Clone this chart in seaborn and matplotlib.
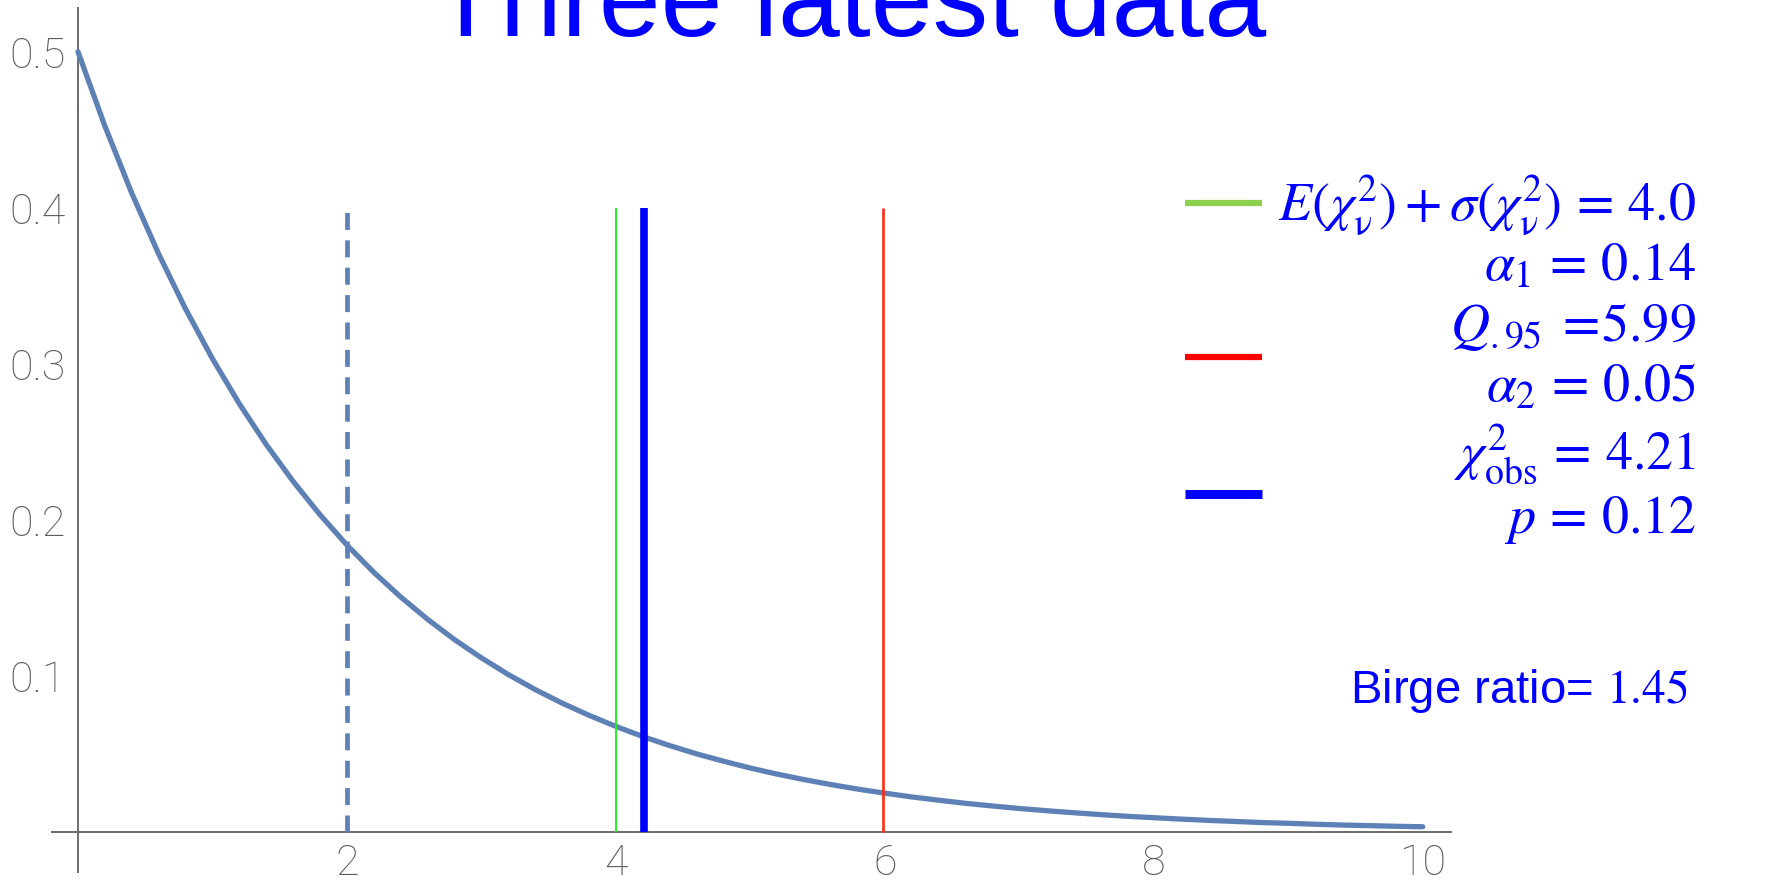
import matplotlib
matplotlib.use("Agg")
import matplotlib.pyplot as plt
from matplotlib.lines import Line2D
from matplotlib.ticker import FixedLocator, MultipleLocator
import numpy as np
import pandas as pd
import seaborn as sns

# ---- data ----
chi_x = [0.0, 0.2, 0.4, 0.6, 0.8, 1.0, 1.2, 1.4, 1.6, 1.8, 2.0, 2.2, 2.4, 2.6,
         2.8, 3.0, 3.2, 3.4, 3.6, 3.8, 4.0, 4.2, 4.4, 4.6, 4.8, 5.0, 5.2, 5.4,
         5.6, 5.8, 6.0, 6.2, 6.4, 6.6, 6.8, 7.0, 7.2, 7.4, 7.6, 7.8, 8.0, 8.2,
         8.4, 8.6, 8.8, 9.0, 9.2, 9.4, 9.6, 9.8, 10.0]
pdf_y = [0.5000, 0.4524, 0.4094, 0.3704, 0.3352, 0.3033, 0.2744, 0.2483,
         0.2247, 0.2033, 0.1839, 0.1664, 0.1506, 0.1363, 0.1233, 0.1116,
         0.1009, 0.0913, 0.0826, 0.0748, 0.0677, 0.0612, 0.0554, 0.0501,
         0.0454, 0.0410, 0.0371, 0.0336, 0.0304, 0.0275, 0.0249, 0.0225,
         0.0204, 0.0184, 0.0167, 0.0151, 0.0137, 0.0124, 0.0112, 0.0101,
         0.0092, 0.0083, 0.0075, 0.0068, 0.0061, 0.0056, 0.0050, 0.0045,
         0.0041, 0.0037, 0.0034]

mean_x = 2.0            # dashed line
mean_sigma_x = 4.0      # green line
obs_x = 4.21            # thick blue line
q95_x = 5.99            # red line
marker_top = 0.4

x_ticks = [2, 4, 6, 8, 10]
y_ticks = [0.1, 0.2, 0.3, 0.4, 0.5]

title_text = "Three latest data"
legend_texts = [
    r"$E(\chi^2_{\mathrm{\nu}})+\sigma(\chi^2_{\mathrm{\nu}})\,=\,4.0$",
    r"$\alpha_1\,=\,0.14$",
    r"$Q_{.95}\;=\!5.99$",
    r"$\alpha_2\,=\,0.05$",
    r"$\chi^2_{\mathrm{obs}}\,=\,4.21$",
    r"$p\,=\,0.12$",
]
birge_text = r"Birge ratio= $1.45$"

# ---- style ----
sns.set_theme(style="white")
plt.rcParams["font.family"] = ["Liberation Sans", "DejaVu Sans"]
plt.rcParams["mathtext.fontset"] = "stix"

W, H = 1775, 881
fig = plt.figure(figsize=(W / 100, H / 100), dpi=100)
fig.patch.set_facecolor("white")

ax = fig.add_axes([52 / W, 1 - 872 / H, (1451 - 52) / W, (872 - 8) / H])
ax.set_facecolor("white")
ax.set_xlim(-0.193, 10.21)
ax.set_ylim(-0.0256, 0.528)

curve_color = "#5E81B5"
axis_color = "#6b6b6b"

df = pd.DataFrame({"x": chi_x, "y": pdf_y})
sns.lineplot(data=df, x="x", y="y", ax=ax, color=curve_color, lw=3.8,
             zorder=3, legend=False)

ax.vlines(mean_x, 0, marker_top, colors=curve_color, lw=3.4,
          linestyles=[(0, (3.6, 2.2))], zorder=4)
ax.vlines(mean_sigma_x, 0, marker_top, colors="#22ee22", lw=1.4, zorder=4)
ax.vlines(obs_x, 0, marker_top, colors="#0000FF", lw=5.5, zorder=5)
ax.vlines(q95_x, 0, marker_top, colors="#FF2A10", lw=1.9, zorder=4)

# axes through the origin, Mathematica style
for s in ["top", "right"]:
    ax.spines[s].set_visible(False)
ax.spines["left"].set_position(("data", 0))
ax.spines["bottom"].set_position(("data", 0))
for s in ["left", "bottom"]:
    ax.spines[s].set_color(axis_color)
    ax.spines[s].set_linewidth(1.4)
    ax.spines[s].set_zorder(2)

ax.xaxis.set_major_locator(FixedLocator(x_ticks))
ax.xaxis.set_minor_locator(MultipleLocator(0.5))
ax.yaxis.set_major_locator(FixedLocator(y_ticks))
ax.yaxis.set_minor_locator(MultipleLocator(0.02))
ax.set_xticklabels([str(v) for v in x_ticks])
ax.set_yticklabels([f"{v:.1f}" for v in y_ticks])
ax.tick_params(axis="both", which="major", direction="in", length=8.5,
               width=1.3, color=axis_color, labelcolor="#5c5c5c",
               labelsize=31)
ax.tick_params(axis="both", which="minor", direction="in", length=5.5,
               width=1.3, color=axis_color)
ax.tick_params(axis="x", which="major", pad=8)
ax.tick_params(axis="y", which="major", pad=9)
for lab in ax.get_xticklabels() + ax.get_yticklabels():
    lab.set_fontfamily("Roboto")
    lab.set_fontweight("light")
ax.set_xlabel("")
ax.set_ylabel("")
ax.grid(False)

# title (mostly cut off at the top in the reference)
fig.text(849 / W, 1 - 36 / H, title_text, ha="center", va="baseline",
         fontsize=80, color="#0000FF")

# legend-like annotations
x_right = 1696 / W
baselines = [220, 281, 341, 402, 469, 533]
for txt, b in zip(legend_texts, baselines):
    fig.text(x_right, 1 - b / H, txt, ha="right", va="baseline",
             fontsize=39, color="#0000FF")
fig.text(1688 / W, 1 - 703 / H, birge_text, ha="right", va="baseline",
         fontsize=34, color="#0000FF")

legend_swatches = [(203, "#8CD04E", 4.5), (357, "#FF0000", 4.5),
                   (494, "#0000FF", 6.5)]
for yy, col, lw in legend_swatches:
    fig.add_artist(Line2D([1185 / W, 1262 / W], [1 - yy / H, 1 - yy / H],
                          transform=fig.transFigure, color=col, lw=lw,
                          solid_capstyle="butt"))

fig.savefig("out.png", dpi=100)
